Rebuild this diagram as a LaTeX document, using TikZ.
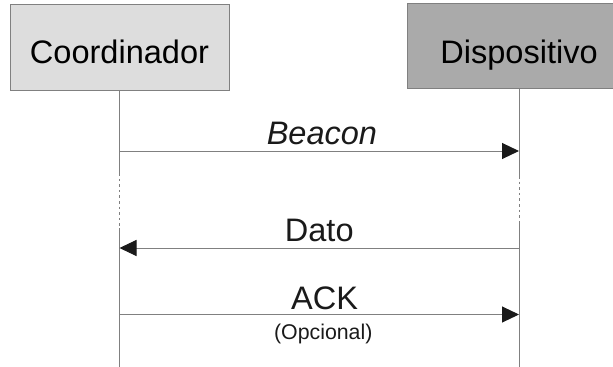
\documentclass[tikz,border=0pt]{standalone}
\usepackage{fontspec}
\setmainfont{Liberation Sans}
\usetikzlibrary{arrows.meta}

\tikzset{every picture/.style={line width=0.75pt}}
\tikzset{
	actor/.style={draw={rgb, 255:red, 128; green, 128; blue, 128 }, inner sep=0pt,
		font=\fontsize{24.4}{28}\selectfont, text depth=0pt},
	lifeline/.style={draw={rgb, 255:red, 128; green, 128; blue, 128 }},
	gap/.style={lifeline, dash pattern=on 2pt off 2.2pt},
	msg/.style={draw={rgb, 255:red, 128; green, 128; blue, 128 },
		-{Triangle[length=12.75pt, width=12pt, color={rgb, 255:red, 26; green, 26; blue, 26 }]}},
	msglabel/.style={inner sep=0pt, font=\fontsize{24.4}{28}\selectfont, text={rgb, 255:red, 26; green, 26; blue, 26 }},
	note/.style={inner sep=0pt, font=\fontsize{16}{19}\selectfont, text={rgb, 255:red, 26; green, 26; blue, 26 }}
}

\begin{document}
\begin{tikzpicture}[x=0.75pt,y=0.75pt,yscale=-1,xscale=1]
	\useasboundingbox (0,0) rectangle (613,367);

	% Actors
	\node [actor, fill={rgb, 255:red, 221; green, 221; blue, 221 }, minimum width=164.25pt, minimum height=64.5pt, text height=23pt]
		(coord) at (119.5,48) {Coordinador};
	\node [actor, fill={rgb, 255:red, 170; green, 170; blue, 170 }, minimum width=168pt, minimum height=63.75pt, text height=26pt]
		(disp) at (519,45.8) {Dispositivo};

	% Points on the lifelines
	\coordinate (cGapA) at (119.5,173);
	\coordinate (cGapB) at (119.5,228);
	\coordinate (cEnd) at (119.5,367);
	\coordinate (dGapA) at (519,176);
	\coordinate (dGapB) at (519,222);
	\coordinate (dEnd) at (519,367);

	\coordinate (cBeacon) at (119.5,151);
	\coordinate (dBeacon) at (519,151);
	\coordinate (cDato) at (119.5,248);
	\coordinate (dDato) at (519,248);
	\coordinate (cAck) at (119.5,314.5);
	\coordinate (dAck) at (519,314.5);

	% Lifelines
	\draw [lifeline] (coord.south) -- (cGapA);
	\draw [gap] (cGapA) -- (cGapB);
	\draw [lifeline] (cGapB) -- (cEnd);
	\draw [lifeline] (disp.south) -- (dGapA);
	\draw [gap] (dGapA) -- (dGapB);
	\draw [lifeline] (dGapB) -- (dEnd);

	% Messages
	\draw [msg] (cBeacon) -- node [msglabel, above=4pt, xshift=2pt] (beacon) {\itshape Beacon} (dBeacon);
	\draw [msg] (dDato) -- node [msglabel, above=4.5pt] (dato) {Dato} (cDato);
	\draw [msg] (cAck) -- node [msglabel, above=3pt, xshift=4pt] (ack) {ACK}
		node [note, below=6.5pt, xshift=3pt] (opt) {(Opcional)} (dAck);

\end{tikzpicture}
\end{document}
